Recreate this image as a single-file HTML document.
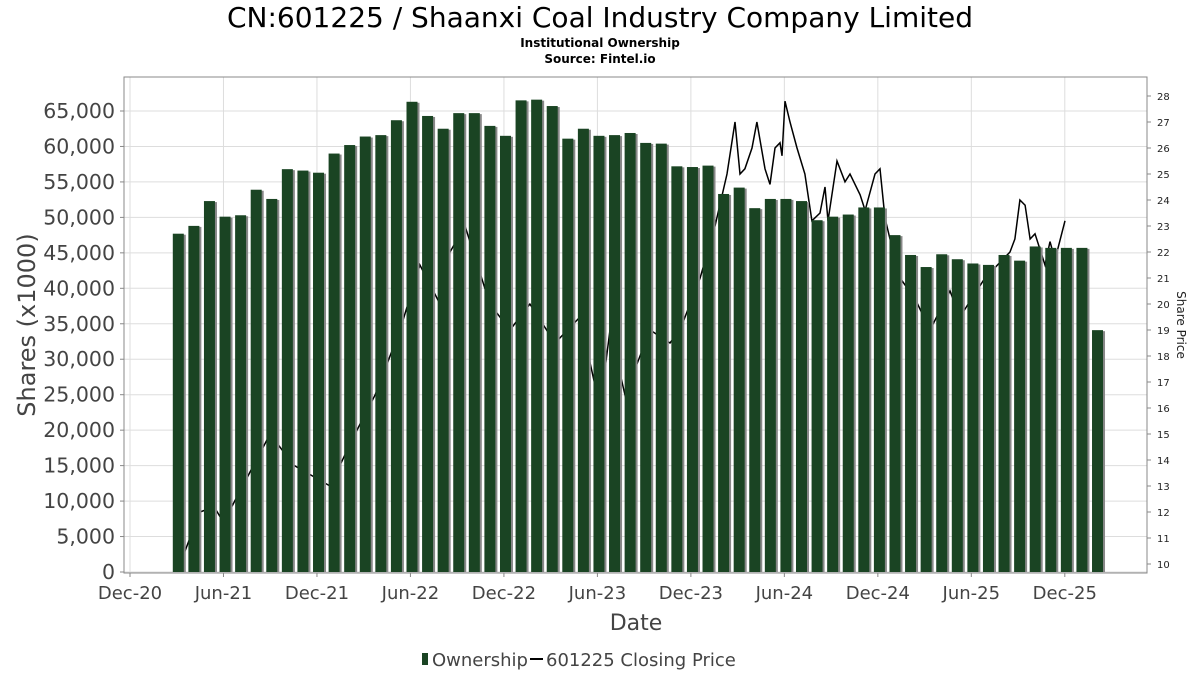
<!DOCTYPE html>
<html><head><meta charset="utf-8"><style>
body{margin:0;background:#fff;font-family:"DejaVu Sans","Liberation Sans",sans-serif;}
svg text{font-family:"DejaVu Sans","Liberation Sans",sans-serif;}
</style></head><body>
<svg id="chart" width="1200" height="675" viewBox="0 0 1200 675" xmlns="http://www.w3.org/2000/svg">
<text x="600" y="27" font-size="28" text-anchor="middle" fill="#000">CN:601225 / Shaanxi Coal Industry Company Limited</text>
<text x="600" y="47" font-size="12" font-weight="bold" text-anchor="middle">Institutional Ownership</text>
<text x="600" y="63" font-size="12" font-weight="bold" text-anchor="middle">Source: Fintel.io</text>
<g id="grid"></g>
<g id="price"></g>
<g id="bars"></g>
<g id="axes"></g>
<text transform="translate(35,325) rotate(-90)" font-size="24" fill="#444" text-anchor="middle">Shares (x1000)</text>
<text transform="translate(1177,325) rotate(90)" font-size="12" fill="#222" text-anchor="middle">Share Price</text>
<text x="636" y="630" font-size="22" fill="#444" text-anchor="middle">Date</text>
<g>
<rect x="422" y="653" width="6" height="12" fill="#1a4423"/>
<text x="432" y="666" font-size="18" fill="#444">Ownership</text>
<line x1="530" y1="659" x2="543" y2="659" stroke="#000" stroke-width="2"/>
<text x="546" y="666" font-size="18" fill="#444">601225 Closing Price</text>
</g>
</svg>
<script>
const ownership = [47.7,48.8,52.3,50.1,50.3,53.9,52.6,56.8,56.6,56.3,59.0,60.2,61.4,61.6,63.7,66.3,64.3,62.5,64.7,64.7,62.9,61.5,66.5,66.6,65.7,61.1,62.5,61.5,61.6,61.9,60.5,60.4,57.2,57.1,57.3,53.3,54.2,51.3,52.6,52.6,52.3,49.6,50.1,50.4,51.4,51.4,47.5,44.7,43.0,44.8,44.1,43.5,43.3,44.7,43.9,45.9,45.7,45.7,45.7,34.1];
const priceMonths = [3.34,4.49,5.4,6.0,8.99,10.5,12.84,14.44,15.73,17.33,18.61,19.9,20.54,21.5,23.1,24.39,25.67,27.28,28.88,30.17,30.81,31.77,33.38,34.66,35.3,36.59,37.55,38.32,38.83,39.15,39.47,39.92,40.24,40.76,41.08,41.4,41.72,41.85,42.04,42.36,42.81,43.32,43.77,44.29,44.61,44.8,45.38,45.89,46.21,46.86,47.18,47.82,48.14,48.46,48.78,49.42,50.39,51.35,52.63,53.27,54.88,56.48,56.8,57.12,57.45,57.77,58.09,58.73,59.05,59.37,60.01];
const priceValues = [10.2,12.0,12.2,11.6,15.0,13.8,13.0,15.0,16.5,19.0,21.5,20.0,22.0,23.0,20.0,19.0,20.0,18.5,19.5,16.0,19.0,16.5,19.0,18.5,19.0,21.0,23.0,25.0,27.0,25.0,25.2,26.0,27.0,25.2,24.6,26.0,26.2,25.7,27.8,27.0,26.0,25.0,23.2,23.5,24.5,23.2,25.5,24.7,25.0,24.2,23.6,25.0,25.2,23.3,22.5,21.0,20.2,19.0,20.5,19.5,21.0,22.0,22.5,24.0,23.8,22.5,22.7,21.5,22.4,21.7,23.2];
const yTicks = [0,5000,10000,15000,20000,25000,30000,35000,40000,45000,50000,55000,60000,65000];
const y2Ticks = [10,11,12,13,14,15,16,17,18,19,20,21,22,23,24,25,26,27,28];
const xTickLabels = ["Dec-20","Jun-21","Dec-21","Jun-22","Dec-22","Jun-23","Dec-23","Jun-24","Dec-24","Jun-25","Dec-25"];

const NS="http://www.w3.org/2000/svg";
const L=124,R=1147,T=77,B=573;
function xMonth(m){return 130+m*15.58;}
function yShares(v){return 572-v*(461/65000);}
function yPrice(p){return 564-(p-10)*26;}
function mk(tag,attrs,parent){const e=document.createElementNS(NS,tag);for(const k in attrs)e.setAttribute(k,attrs[k]);parent.appendChild(e);return e;}
const grid=document.getElementById('grid'),axes=document.getElementById('axes'),bars=document.getElementById('bars'),price=document.getElementById('price');
mk('rect',{x:L,y:T,width:R-L,height:B-T,fill:'#fff'},grid);
yTicks.forEach(v=>{
  const y=yShares(v);
  const g=mk('line',{x1:L,x2:R,y1:y,y2:y,stroke:'#ddd','stroke-width':1},grid);
  
  
  const t=mk('text',{x:115,y:y+7,'font-size':20.5,fill:'#444','text-anchor':'end'},axes);
  t.textContent=v.toLocaleString('en-US');
  
  
  mk('line',{x1:L-4,x2:L,y1:y,y2:y,stroke:'#888'},axes);
});
y2Ticks.forEach(p=>{
  const y=yPrice(p);
  const t=mk('text',{x:1157,y:y+4,'font-size':10,fill:'#222'},axes);
  t.textContent=p;
  
  
  mk('line',{x1:R,x2:R+4,y1:y,y2:y,stroke:'#888'},axes);
});
xTickLabels.forEach((s,i)=>{
  const x=xMonth(i*6);
  const g=mk('line',{x1:x,x2:x,y1:T,y2:B,stroke:'#ddd'},grid);
  
  
  mk('line',{x1:x,x2:x,y1:B,y2:B+4,stroke:'#888'},axes);
  const t=mk('text',{x:x,y:599,'font-size':18,fill:'#444','text-anchor':'middle'},axes);
  t.textContent=s;
  
  
});
let d='';
priceMonths.forEach((m,i)=>{d+=(i?'L':'M')+xMonth(m).toFixed(1)+','+yPrice(priceValues[i]).toFixed(1);});
const pl=mk('path',{d:d,fill:'none',stroke:'#000','stroke-width':1.5},price);


ownership.forEach((v,i)=>{
  const c=xMonth(i+3.1),y=yShares(v*1000);
  const s=mk('rect',{x:c-3.5,y:y+1,width:11,height:572-y-1,fill:'#888'},bars);
  
  
  const b=mk('rect',{x:c-5.5,y:y,width:11,height:572-y,fill:'#1a4423'},bars);
  
  
});
mk('rect',{x:L,y:T,width:R-L,height:B-T,fill:'none',stroke:'#888'},axes);
</script>
</body></html>
